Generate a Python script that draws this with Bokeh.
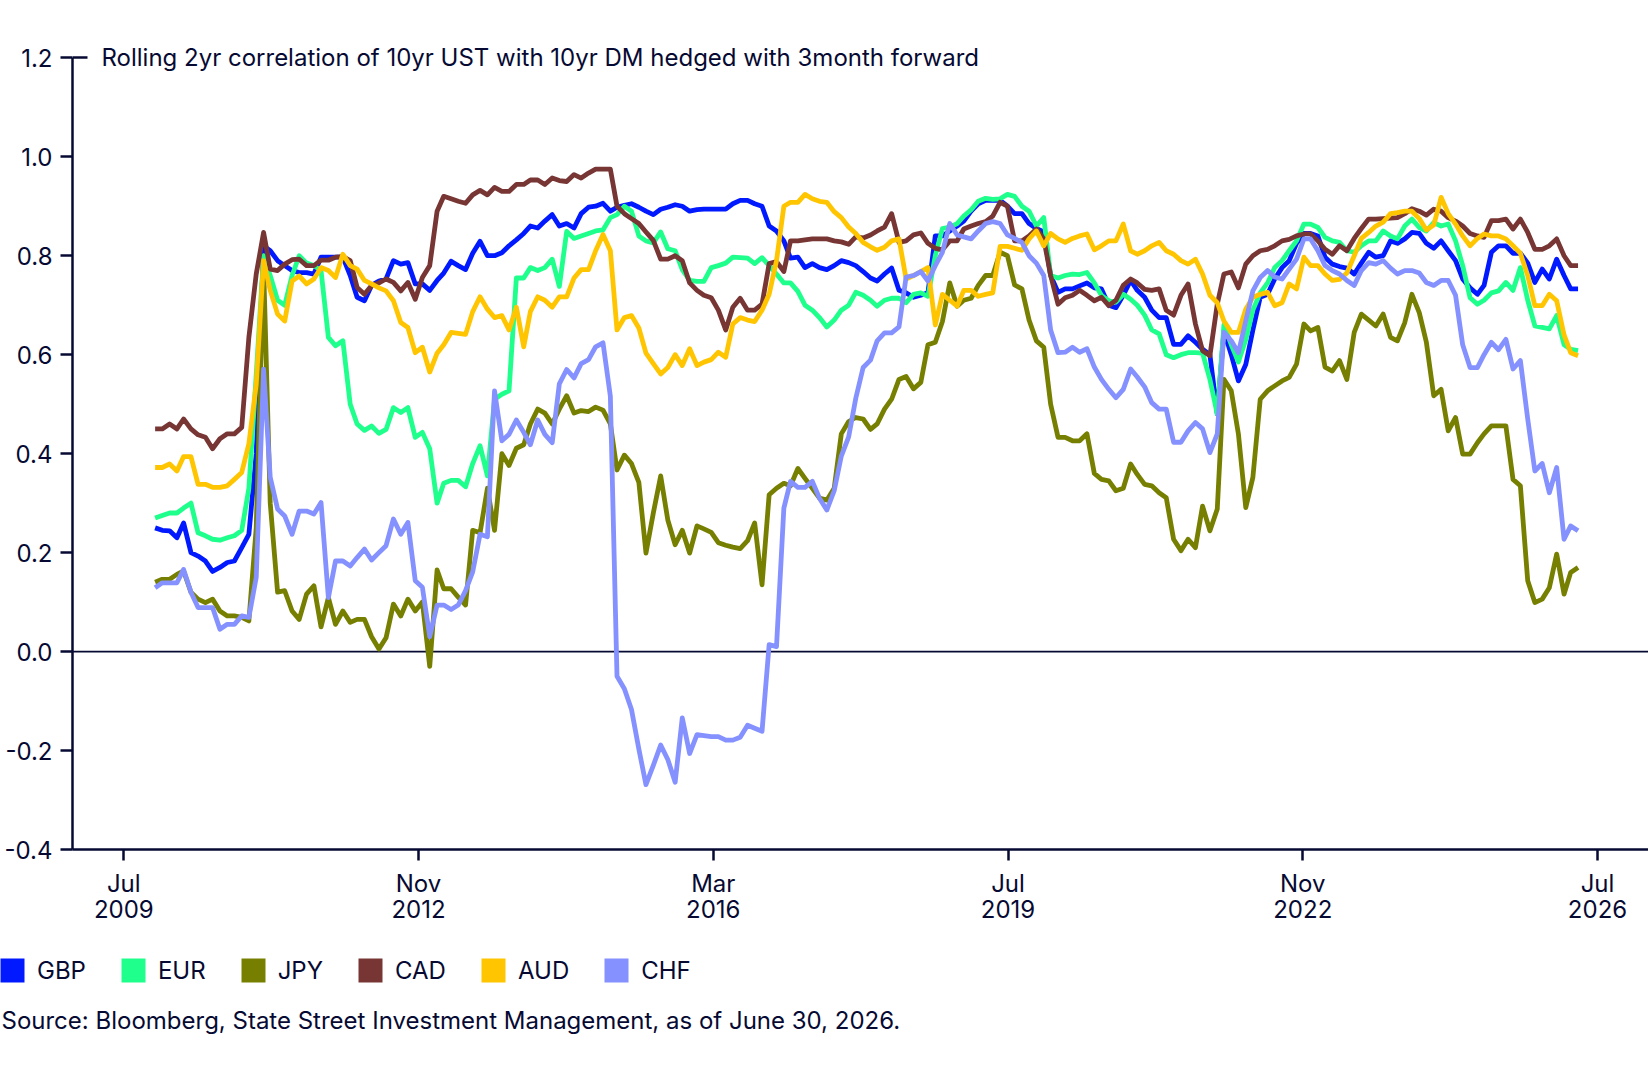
import pandas as pd
from bokeh.plotting import figure
from bokeh.layouts import column
from bokeh.models import (Range1d, FixedTicker, PrintfTickFormatter, Span, Label,
                          Legend, LegendItem, LinearAxis, ColumnDataSource)
from bokeh.embed import file_html
from bokeh.resources import INLINE

# ---------------- data (monthly, Nov 2009 .. Apr 2026) ----------------
first_month = "2009-11-01"
n_points = 198

gbp = [0.25, 0.245, 0.244, 0.23, 0.26, 0.20, 0.193, 0.183, 0.162, 0.17, 0.18, 0.183, 0.21, 0.237, 0.40, 0.82, 0.81, 0.79, 0.78, 0.77,
       0.766, 0.766, 0.763, 0.797, 0.797, 0.797, 0.797, 0.76, 0.716, 0.709, 0.74, 0.749, 0.753, 0.79, 0.783, 0.786, 0.743, 0.743,
       0.73, 0.75, 0.765, 0.789, 0.78, 0.772, 0.805, 0.829, 0.80, 0.80, 0.806, 0.82, 0.832, 0.845, 0.86, 0.856, 0.87, 0.883, 0.86, 0.865,
       0.856, 0.885, 0.898, 0.90, 0.906, 0.89, 0.898, 0.902, 0.905, 0.898, 0.89, 0.883, 0.894, 0.898, 0.903, 0.90, 0.89, 0.893, 0.894,
       0.894, 0.894, 0.894, 0.905,
       0.912, 0.912, 0.905, 0.90, 0.86, 0.85, 0.83, 0.795, 0.797, 0.776, 0.784, 0.776, 0.772, 0.78, 0.79, 0.786, 0.78, 0.768, 0.755, 0.749,
       0.763, 0.775, 0.73, 0.725, 0.716, 0.72, 0.725, 0.84, 0.84, 0.85, 0.86, 0.87, 0.89, 0.905, 0.912, 0.912, 0.912, 0.90, 0.885, 0.885, 0.865,
       0.855, 0.848, 0.76, 0.726, 0.733, 0.733, 0.739, 0.745, 0.735, 0.733, 0.70, 0.695, 0.72, 0.75, 0.73, 0.716, 0.69, 0.675, 0.675, 0.621,
       0.621, 0.638, 0.625, 0.611, 0.60, 0.48, 0.648, 0.60, 0.547, 0.58, 0.65, 0.716, 0.722, 0.753, 0.776, 0.79, 0.825, 0.845, 0.845, 0.84,
       0.797, 0.783, 0.778, 0.775, 0.763, 0.785, 0.807, 0.797, 0.80, 0.83, 0.825, 0.834, 0.847, 0.845, 0.825, 0.815, 0.83, 0.81, 0.79, 0.753,
       0.735, 0.722, 0.74, 0.807, 0.82, 0.82, 0.805, 0.805, 0.785, 0.746, 0.773, 0.753, 0.793, 0.76, 0.733, 0.733]

eur = [0.27, 0.275, 0.28, 0.28, 0.29, 0.30, 0.24, 0.234, 0.227, 0.225, 0.23, 0.234, 0.245, 0.33, 0.56, 0.80, 0.76, 0.71, 0.70, 0.76,
       0.80, 0.785, 0.78, 0.77, 0.635, 0.618, 0.628, 0.50, 0.46, 0.447, 0.456, 0.441, 0.449, 0.493, 0.483, 0.493, 0.433, 0.443,
       0.41, 0.30, 0.34, 0.346, 0.346, 0.333, 0.38, 0.416, 0.355, 0.51, 0.52, 0.527, 0.755, 0.755, 0.776, 0.77, 0.776, 0.793, 0.738, 0.849,
       0.835, 0.84, 0.845, 0.85, 0.852, 0.877, 0.883, 0.90, 0.89, 0.84, 0.83, 0.826, 0.848, 0.814, 0.81, 0.772, 0.75, 0.748, 0.748, 0.776,
       0.78, 0.785, 0.797,
       0.796, 0.795, 0.784, 0.796, 0.78, 0.763, 0.745, 0.745, 0.728, 0.70, 0.69, 0.675, 0.656, 0.67, 0.69, 0.70, 0.726, 0.72, 0.71, 0.698,
       0.71, 0.714, 0.714, 0.705, 0.722, 0.725, 0.718, 0.80, 0.855, 0.858, 0.865, 0.88, 0.893, 0.91, 0.916, 0.914, 0.915, 0.924, 0.92, 0.90, 0.89,
       0.86, 0.877, 0.76, 0.755, 0.76, 0.763, 0.762, 0.766, 0.745, 0.72, 0.709, 0.706, 0.722, 0.712, 0.70, 0.68, 0.65, 0.642, 0.60, 0.594,
       0.60, 0.604, 0.604, 0.603, 0.55, 0.48, 0.66, 0.62, 0.585, 0.63, 0.69, 0.725, 0.745, 0.776, 0.79, 0.81, 0.83, 0.864, 0.864, 0.857,
       0.837, 0.83, 0.827, 0.81, 0.807, 0.82, 0.83, 0.83, 0.85, 0.84, 0.834, 0.86, 0.874, 0.857, 0.85, 0.867, 0.86, 0.864, 0.83, 0.78,
       0.715, 0.702, 0.71, 0.725, 0.729, 0.746, 0.73, 0.776, 0.71, 0.658, 0.655, 0.652, 0.679, 0.62, 0.611, 0.608]

jpy = [0.14, 0.146, 0.146, 0.156, 0.163, 0.12, 0.106, 0.099, 0.106, 0.082, 0.072, 0.072, 0.069, 0.062, 0.25, 0.78, 0.30, 0.12, 0.123, 0.082,
       0.065, 0.116, 0.133, 0.05, 0.109, 0.055, 0.082, 0.059, 0.065, 0.065, 0.03, 0.005, 0.028, 0.096, 0.072, 0.106, 0.082, 0.10,
       -0.03, 0.165, 0.127, 0.127, 0.11, 0.094, 0.245, 0.24, 0.33, 0.245, 0.40, 0.376, 0.411, 0.418, 0.46, 0.49, 0.482, 0.46, 0.49, 0.517,
       0.482, 0.487, 0.485, 0.494, 0.488, 0.46, 0.367, 0.397, 0.38, 0.342, 0.199, 0.28, 0.355, 0.266, 0.216, 0.245, 0.199, 0.254, 0.248, 0.241,
       0.22, 0.215, 0.211,
       0.208, 0.224, 0.26, 0.135, 0.317, 0.33, 0.34, 0.335, 0.37, 0.35, 0.33, 0.31, 0.306, 0.33, 0.44, 0.465, 0.473, 0.47, 0.449, 0.46,
       0.49, 0.51, 0.55, 0.556, 0.531, 0.544, 0.62, 0.625, 0.667, 0.745, 0.698, 0.71, 0.714, 0.74, 0.76, 0.76, 0.807, 0.80, 0.741, 0.733, 0.67,
       0.628, 0.615, 0.50, 0.433, 0.433, 0.426, 0.426, 0.44, 0.36, 0.348, 0.345, 0.325, 0.33, 0.379, 0.358, 0.338, 0.335, 0.321, 0.311, 0.227,
       0.204, 0.227, 0.21, 0.294, 0.244, 0.288, 0.55, 0.527, 0.44, 0.291, 0.352, 0.51, 0.527, 0.537, 0.547, 0.554, 0.581, 0.662, 0.648, 0.655,
       0.575, 0.567, 0.588, 0.55, 0.645, 0.682, 0.67, 0.658, 0.682, 0.635, 0.628, 0.665, 0.722, 0.685, 0.625, 0.517, 0.53, 0.446, 0.473, 0.399,
       0.399, 0.422, 0.44, 0.456, 0.456, 0.456, 0.348, 0.335, 0.143, 0.099, 0.106, 0.129, 0.197, 0.116, 0.16, 0.17]

cad = [0.45, 0.45, 0.46, 0.45, 0.47, 0.45, 0.438, 0.433, 0.41, 0.43, 0.44, 0.44, 0.453, 0.635, 0.763, 0.847, 0.773, 0.77, 0.783, 0.792,
       0.793, 0.78, 0.78, 0.791, 0.791, 0.797, 0.798, 0.79, 0.736, 0.722, 0.74, 0.745, 0.753, 0.746, 0.729, 0.746, 0.712, 0.756,
       0.78, 0.89, 0.92, 0.915, 0.91, 0.906, 0.923, 0.932, 0.923, 0.938, 0.93, 0.93, 0.944, 0.944, 0.953, 0.953, 0.944, 0.957, 0.952, 0.95,
       0.964, 0.957, 0.967, 0.975, 0.975, 0.975, 0.90, 0.885, 0.875, 0.865, 0.848, 0.831, 0.793, 0.793, 0.80, 0.79, 0.745, 0.73, 0.72, 0.715,
       0.69, 0.65, 0.696,
       0.714, 0.69, 0.69, 0.702, 0.784, 0.788, 0.768, 0.83, 0.83, 0.832, 0.834, 0.834, 0.834, 0.83, 0.828, 0.823, 0.838, 0.836, 0.842, 0.85,
       0.858, 0.885, 0.827, 0.83, 0.842, 0.846, 0.825, 0.815, 0.812, 0.83, 0.83, 0.854, 0.86, 0.865, 0.869, 0.88, 0.908, 0.90, 0.83, 0.83, 0.84,
       0.854, 0.834, 0.76, 0.702, 0.715, 0.72, 0.73, 0.72, 0.709, 0.716, 0.699, 0.71, 0.74, 0.753, 0.745, 0.732, 0.73, 0.733, 0.69, 0.68,
       0.72, 0.743, 0.662, 0.608, 0.598, 0.702, 0.763, 0.767, 0.735, 0.783, 0.80, 0.81, 0.813, 0.82, 0.83, 0.833, 0.84, 0.844, 0.844, 0.83,
       0.813, 0.803, 0.82, 0.81, 0.835, 0.855, 0.874, 0.874, 0.875, 0.876, 0.877, 0.885, 0.895, 0.89, 0.882, 0.894, 0.89, 0.877, 0.87, 0.86,
       0.845, 0.84, 0.837, 0.871, 0.871, 0.874, 0.854, 0.874, 0.847, 0.813, 0.813, 0.82, 0.834, 0.80, 0.78, 0.78]

aud = [0.372, 0.372, 0.379, 0.365, 0.394, 0.394, 0.338, 0.338, 0.332, 0.332, 0.335, 0.348, 0.362, 0.42, 0.54, 0.79, 0.73, 0.682, 0.668, 0.749,
       0.759, 0.743, 0.753, 0.776, 0.77, 0.756, 0.803, 0.78, 0.773, 0.75, 0.743, 0.735, 0.729, 0.709, 0.665, 0.655, 0.604, 0.615,
       0.565, 0.603, 0.62, 0.645, 0.643, 0.641, 0.687, 0.717, 0.692, 0.675, 0.679, 0.65, 0.696, 0.616, 0.687, 0.717, 0.71, 0.696, 0.717, 0.717,
       0.755, 0.772, 0.772, 0.81, 0.843, 0.81, 0.65, 0.675, 0.679, 0.654, 0.603, 0.582, 0.561, 0.574, 0.60, 0.578, 0.612, 0.578, 0.585, 0.59,
       0.605, 0.595, 0.662,
       0.675, 0.67, 0.667, 0.69, 0.722, 0.79, 0.90, 0.908, 0.908, 0.924, 0.915, 0.91, 0.908, 0.889, 0.877, 0.858, 0.845, 0.827, 0.818, 0.811,
       0.817, 0.83, 0.834, 0.753, 0.76, 0.768, 0.776, 0.66, 0.722, 0.71, 0.698, 0.73, 0.73, 0.718, 0.722, 0.725, 0.819, 0.819, 0.815, 0.811, 0.834,
       0.85, 0.82, 0.845, 0.834, 0.827, 0.835, 0.84, 0.844, 0.812, 0.82, 0.83, 0.83, 0.864, 0.81, 0.803, 0.81, 0.82, 0.827, 0.81, 0.803,
       0.79, 0.783, 0.793, 0.763, 0.72, 0.705, 0.668, 0.645, 0.645, 0.692, 0.716, 0.722, 0.726, 0.699, 0.705, 0.743, 0.733, 0.797, 0.78, 0.78,
       0.763, 0.75, 0.752, 0.765, 0.80, 0.835, 0.847, 0.86, 0.868, 0.885, 0.887, 0.89, 0.89, 0.875, 0.852, 0.862, 0.918, 0.885, 0.864, 0.84,
       0.82, 0.835, 0.844, 0.84, 0.84, 0.834, 0.82, 0.805, 0.76, 0.699, 0.699, 0.722, 0.709, 0.64, 0.604, 0.598]

chf = [0.129, 0.139, 0.139, 0.139, 0.166, 0.12, 0.089, 0.089, 0.089, 0.045, 0.055, 0.055, 0.072, 0.069, 0.15, 0.571, 0.352, 0.288, 0.274, 0.237,
       0.284, 0.284, 0.278, 0.301, 0.109, 0.183, 0.183, 0.173, 0.19, 0.207, 0.185, 0.20, 0.214, 0.268, 0.237, 0.261, 0.143, 0.13,
       0.03, 0.094, 0.094, 0.085, 0.094, 0.123, 0.161, 0.237, 0.232, 0.527, 0.426, 0.439, 0.468, 0.443, 0.418, 0.468, 0.439, 0.422, 0.541, 0.57,
       0.553, 0.582, 0.59, 0.616, 0.624, 0.516, -0.05, -0.075, -0.117, -0.197, -0.269, -0.23, -0.189, -0.218, -0.264, -0.134, -0.206, -0.168,
       -0.17, -0.172, -0.172, -0.179, -0.179,
       -0.173, -0.149, -0.155, -0.161, 0.014, 0.01, 0.29, 0.344, 0.332, 0.332, 0.344, 0.31, 0.286, 0.325, 0.395, 0.434, 0.512, 0.574, 0.589, 0.628,
       0.644, 0.644, 0.656, 0.757, 0.76, 0.768, 0.749, 0.78, 0.807, 0.865, 0.842, 0.838, 0.834, 0.85, 0.865, 0.869, 0.865, 0.842, 0.835, 0.827, 0.80,
       0.785, 0.76, 0.65, 0.604, 0.605, 0.615, 0.605, 0.612, 0.575, 0.55, 0.53, 0.513, 0.53, 0.571, 0.555, 0.535, 0.503, 0.49, 0.49, 0.423,
       0.423, 0.446, 0.463, 0.45, 0.402, 0.44, 0.645, 0.628, 0.604, 0.668, 0.729, 0.756, 0.77, 0.757, 0.753, 0.773, 0.793, 0.834, 0.834, 0.81,
       0.78, 0.77, 0.763, 0.75, 0.74, 0.77, 0.786, 0.783, 0.79, 0.775, 0.763, 0.77, 0.77, 0.765, 0.746, 0.74, 0.75, 0.75, 0.72, 0.62,
       0.574, 0.574, 0.60, 0.625, 0.61, 0.631, 0.571, 0.588, 0.47, 0.365, 0.38, 0.321, 0.372, 0.227, 0.254, 0.244]

series_names = ["GBP", "EUR", "JPY", "CAD", "AUD", "CHF"]
series_values = [gbp, eur, jpy, cad, aud, chf]
series_colors = ["#0019ff", "#1eff8c", "#767f00", "#773634", "#ffc500", "#8491ff"]

x_tick_months = ["Jul", "Nov", "Mar", "Jul", "Nov", "Jul"]
x_tick_years = ["2009", "2012", "2016", "2019", "2022", "2026"]
y_ticks = [-0.4, -0.2, 0.0, 0.2, 0.4, 0.6, 0.8, 1.0, 1.2]

title_text = "Rolling 2yr correlation of 10yr UST with 10yr DM hedged with 3month forward"
source_text = "Source: Bloomberg, State Street Investment Management, as of June 30, 2026."

# ---------------- build ----------------
NAVY = "#060a33"
FONT = "Inter"
W = 1648
H_MAIN = 940
H_FOOT = 135

dates = pd.date_range(first_month, periods=n_points, freq="MS") + pd.Timedelta(days=9)

t0 = pd.Timestamp("2009-07-01")
t1 = pd.Timestamp("2026-07-01")
step = (t1 - t0) / 5
tick_ms = [int((t0 + step * i).value // 10**6) for i in range(6)]
step_ms = step.value / 1e6
x_start = tick_ms[0] - 0.174 * step_ms
x_end = tick_ms[-1] + 0.173 * step_ms
y_top = 1.2592   # a little headroom above 1.2 for the chart title

p = figure(width=W, height=H_MAIN, x_axis_type="datetime",
           x_range=Range1d(x_start, x_end), y_range=Range1d(-0.4, y_top),
           output_backend="svg", toolbar_location=None,
           min_border_left=72, min_border_right=0, min_border_top=28,
           min_border_bottom=H_MAIN - 849)
p.frame_align = False
p.outline_line_color = None
p.grid.visible = False
p.background_fill_color = "white"
p.border_fill_color = "white"

p.add_layout(Span(location=0, dimension="width", line_color=NAVY, line_width=1.7, level="underlay"))

for name, vals, col in zip(series_names, series_values, series_colors):
    p.line(dates, vals, line_color=col, line_width=4.8, line_join="round")

# axes
xa = p.xaxis[0]
xa.ticker = FixedTicker(ticks=tick_ms)
xa.major_label_overrides = {t: f"{m}\n{y}" for t, m, y in zip(tick_ms, x_tick_months, x_tick_years)}
ya = p.yaxis[0]
ya.ticker = FixedTicker(ticks=y_ticks)
ya.formatter = PrintfTickFormatter(format="%.1f")
ya.bounds = (-0.4, 1.2)
for ax in (xa, ya):
    ax.axis_line_color = NAVY
    ax.axis_line_width = 2.5
    ax.major_tick_line_color = NAVY
    ax.major_tick_line_width = 2.5
    ax.major_tick_in = 0
    ax.minor_tick_line_color = None
    ax.major_label_text_font = FONT
    ax.major_label_text_font_size = "24px"
    ax.major_label_text_color = NAVY
xa.major_tick_out = 11
xa.major_label_standoff = 8
xa.major_label_text_line_height = 0.93
ya.major_tick_out = 12
ya.major_label_standoff = 8

# the top tick also reaches into the plot
top_tick = LinearAxis(ticker=FixedTicker(ticks=[1.2]), fixed_location=x_start,
                      major_tick_in=15, major_tick_out=0, axis_line_color=None,
                      major_tick_line_color=NAVY, major_tick_line_width=2.5,
                      minor_tick_line_color=None, major_label_text_color=None,
                      major_label_standoff=0, major_label_text_font_size="1px")
p.add_layout(top_tick, "left")

# title text next to the top tick
p.add_layout(Label(x=x_start, y=1.2, x_offset=29, text=title_text, text_font=FONT,
                   text_font_size="24px", text_color=NAVY, text_baseline="middle"))

# ---------------- footer: legend + source ----------------
f = figure(width=W, height=H_FOOT, x_range=Range1d(0, W), y_range=Range1d(0, H_FOOT),
           output_backend="svg", toolbar_location=None,
           x_axis_location=None, y_axis_location=None, min_border=0)
f.frame_align = False
f.outline_line_color = None
f.grid.visible = False
f.background_fill_color = "white"
f.border_fill_color = "white"

nan = float("nan")
items = []
for name, col in zip(series_names, series_colors):
    src = ColumnDataSource(dict(l=[nan], r=[nan], t=[nan], b=[nan]))
    rr = f.quad(left="l", right="r", top="t", bottom="b", source=src,
                fill_color=col, line_color=None)
    items.append(LegendItem(label=name, renderers=[rr]))
legend = Legend(items=items, orientation="horizontal", location=(-3, 90),
                glyph_width=30, glyph_height=30, label_standoff=10, spacing=32,
                padding=0, margin=0, border_line_color=None, background_fill_alpha=0,
                label_text_font=FONT, label_text_font_size="24px", label_text_color=NAVY,
                label_text_baseline="middle")
f.add_layout(legend)

f.add_layout(Label(x=1, y=H_FOOT - 80, text=source_text, text_font=FONT,
                   text_font_size="24px", text_color=NAVY, text_baseline="middle"))

layout = column(p, f, spacing=0)
open("out.html", "w").write(file_html(layout, INLINE))
